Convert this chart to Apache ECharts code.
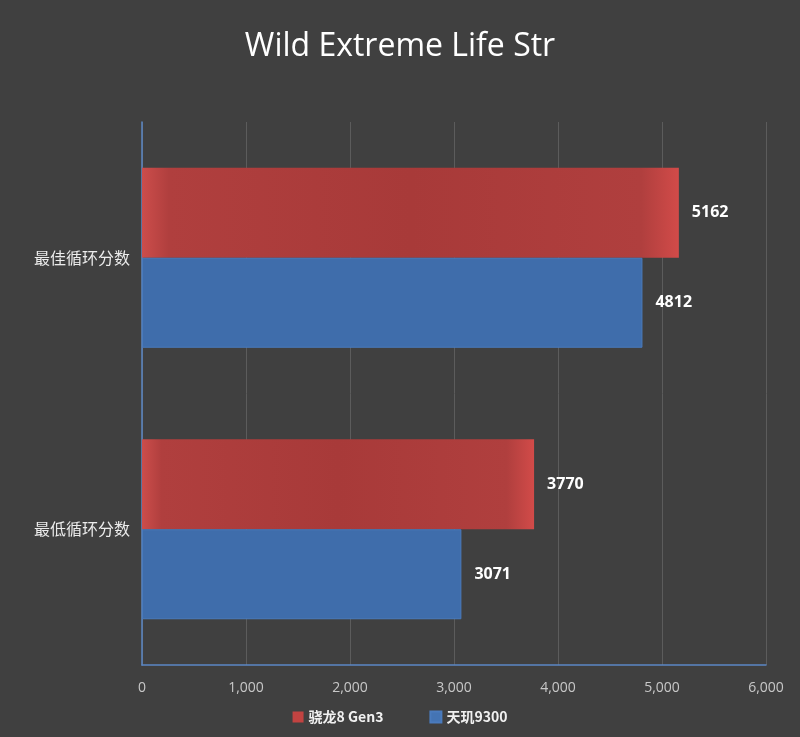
<!DOCTYPE html>
<html>
<head>
<meta charset="utf-8">
<script src="https://cdn.jsdelivr.net/npm/echarts@6/dist/echarts.min.js"></script>
<style>
html,body{margin:0;padding:0;background:#404040;}
#chart{width:800px;height:737px;}
</style>
</head>
<body>
<div id="chart"></div>
<script>
const categories = ['最佳循环分数', '最低循环分数'];
const seriesNames = ['骁龙8 Gen3', '天玑9300'];
const snapdragon = [5162, 3770];
const dimensity = [4812, 3071];
const xTicks = [0, 1000, 2000, 3000, 4000, 5000, 6000];

const chart = echarts.init(document.getElementById('chart'));
const redGrad = new echarts.graphic.LinearGradient(0, 0, 1, 0, [
  {offset: 0, color: '#cc4d4b'},
  {offset: 0.05, color: '#b03f3e'},
  {offset: 0.5, color: '#a83a39'},
  {offset: 0.93, color: '#b03f3e'},
  {offset: 1, color: '#d24b49'}
]);
chart.setOption({
  backgroundColor: '#404040',
  title: {
    text: 'Wild Extreme Life Str',
    left: 'center',
    top: 26,
    textStyle: {color: '#ffffff', fontSize: 32, fontWeight: 'normal', fontFamily: 'Open Sans'}
  },
  legend: {
    bottom: 8,
    left: 'center',
    itemWidth: 11,
    itemHeight: 11,
    itemGap: 46,
    icon: 'rect',
    data: [
      {name: seriesNames[0], itemStyle: {color: '#c24341'}},
      {name: seriesNames[1], itemStyle: {color: '#4474b4'}}
    ],
    textStyle: {color: '#f0f0f0', fontSize: 14, fontWeight: 'bold', fontFamily: 'Noto Sans CJK SC'}
  },
  grid: {left: 142, right: 34, top: 122, bottom: 72, containLabel: false},
  xAxis: {
    type: 'value',
    min: xTicks[0],
    max: xTicks[xTicks.length - 1],
    interval: 1000,
    axisLine: {show: true, lineStyle: {color: '#5b87c5', width: 1.5}},
    axisTick: {show: false},
    splitLine: {show: true, lineStyle: {color: '#5c5c5c', width: 1}},
    axisLabel: {
      color: '#c8c8c8', fontSize: 14, margin: 16, fontFamily: 'Open Sans',
      formatter: v => v.toLocaleString('en-US')
    }
  },
  yAxis: {
    type: 'category',
    inverse: true,
    data: categories,
    axisLine: {show: true, lineStyle: {color: '#5b87c5', width: 1.5}},
    axisTick: {show: false},
    axisLabel: {color: '#ececec', fontSize: 16, margin: 12, fontFamily: 'Noto Sans CJK SC'}
  },
  series: [
    {
      name: seriesNames[0],
      type: 'bar',
      data: snapdragon,
      barGap: '0%',
      barCategoryGap: '33.7%',
      itemStyle: {color: redGrad},
      label: {show: true, position: 'right', distance: 13, color: '#ffffff', fontSize: 16, fontWeight: 'bold', fontFamily: 'Open Sans'}
    },
    {
      name: seriesNames[1],
      type: 'bar',
      data: dimensity,
      barGap: '0%',
      barCategoryGap: '33.7%',
      itemStyle: {color: '#3f6dab', borderColor: '#4a7bbd', borderWidth: 1},
      label: {show: true, position: 'right', distance: 13, color: '#ffffff', fontSize: 16, fontWeight: 'bold', fontFamily: 'Open Sans'}
    }
  ]
});
</script>
</body>
</html>
